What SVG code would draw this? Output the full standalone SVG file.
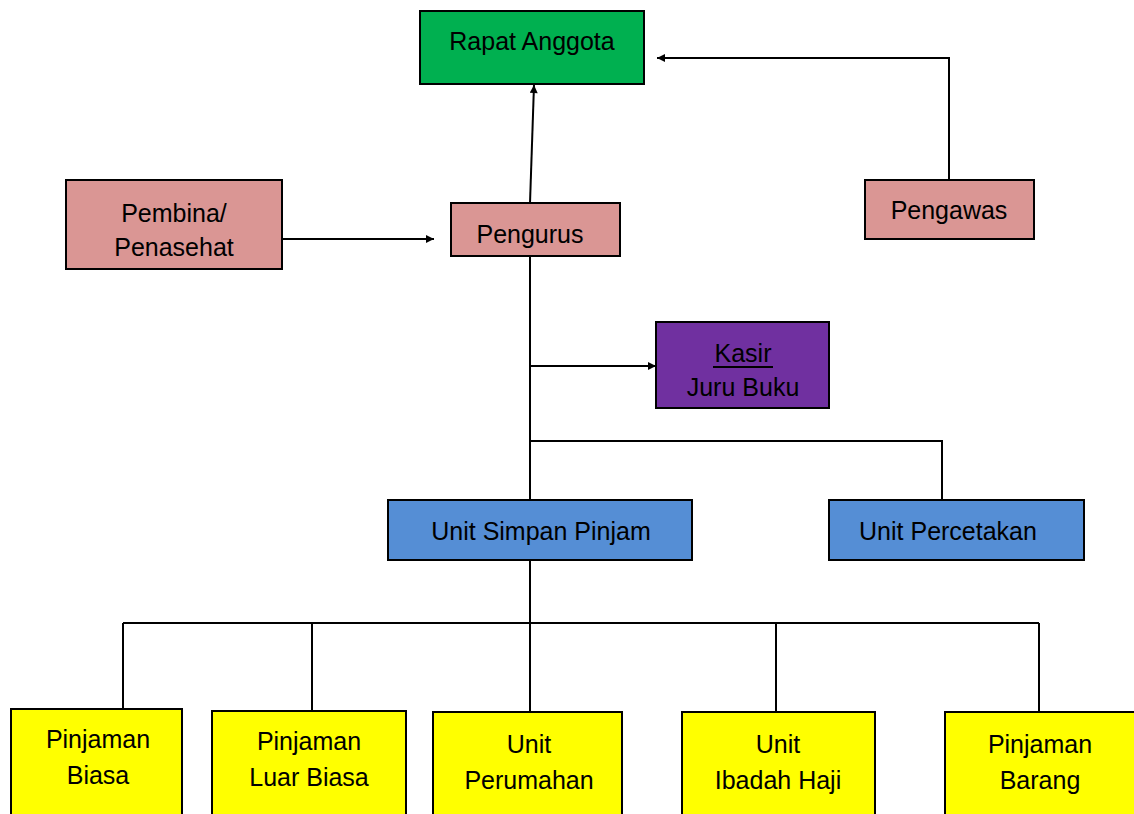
<svg xmlns="http://www.w3.org/2000/svg" width="1134" height="814" viewBox="0 0 1134 814">
<defs>
<marker id="ah" viewBox="0 0 10 10" refX="10" refY="5" markerWidth="9" markerHeight="8" orient="auto" markerUnits="userSpaceOnUse">
<path d="M0,0 L10,5 L0,10 z" fill="#000"/>
</marker>
<style>
.box{stroke:#000;stroke-width:2}
.t{font-family:"Liberation Sans",Arial,sans-serif;font-size:25px;fill:#000;text-anchor:middle}
.c{fill:none;stroke:#000;stroke-width:2}
.a{marker-end:url(#ah)}
</style>
</defs>
<rect width="1134" height="814" fill="#fff"/>
<g id="connectors">
<path class="c a" d="M530,203 L534,85"/>
<path class="c a" d="M949,180 L949,58 L657,58"/>
<path class="c a" d="M282,239 L434,239"/>
<path class="c" d="M530,256 L530,500"/>
<path class="c a" d="M530,366 L656,366"/>
<path class="c" d="M530,441 L942,441 L942,500"/>
<path class="c" d="M530,560 L530,623"/>
<path class="c" d="M123,623 L1039,623"/>
<path class="c" d="M123,623 L123,709"/>
<path class="c" d="M312,623 L312,711"/>
<path class="c" d="M530,623 L530,712"/>
<path class="c" d="M776,623 L776,712"/>
<path class="c" d="M1039,623 L1039,712"/>
</g>
<g id="rapat-anggota">
<rect class="box" x="420" y="11" width="224" height="73" fill="#00B050"/>
<text class="t" x="532" y="50">Rapat Anggota</text>
</g>
<g id="pembina">
<rect class="box" x="66" y="180" width="216" height="89" fill="#DA9694"/>
<text class="t" x="174" y="222">Pembina/</text>
<text class="t" x="174" y="256">Penasehat</text>
</g>
<g id="pengurus">
<rect class="box" x="451" y="203" width="169" height="53" fill="#DA9694"/>
<text class="t" x="530" y="243">Pengurus</text>
</g>
<g id="pengawas">
<rect class="box" x="865" y="180" width="169" height="59" fill="#DA9694"/>
<text class="t" x="949" y="219">Pengawas</text>
</g>
<g id="kasir">
<rect class="box" x="656" y="322" width="173" height="86" fill="#7030A0"/>
<text class="t" x="743" y="362">Kasir</text>
<line x1="713" y1="367" x2="773" y2="367" stroke="#000" stroke-width="2"/>
<text class="t" x="743" y="396">Juru Buku</text>
</g>
<g id="unit-simpan-pinjam">
<rect class="box" x="388" y="500" width="304" height="60" fill="#558ED5"/>
<text class="t" x="541" y="540">Unit Simpan Pinjam</text>
</g>
<g id="unit-percetakan">
<rect class="box" x="829" y="500" width="255" height="60" fill="#558ED5"/>
<text class="t" x="948" y="540">Unit Percetakan</text>
</g>
<g id="pinjaman-biasa">
<rect class="box" x="11" y="709" width="171" height="110" fill="#FFFF00"/>
<text class="t" x="98" y="748">Pinjaman</text>
<text class="t" x="98" y="784">Biasa</text>
</g>
<g id="pinjaman-luar-biasa">
<rect class="box" x="212" y="711" width="194" height="108" fill="#FFFF00"/>
<text class="t" x="309" y="750">Pinjaman</text>
<text class="t" x="309" y="786">Luar Biasa</text>
</g>
<g id="unit-perumahan">
<rect class="box" x="433" y="712" width="189" height="107" fill="#FFFF00"/>
<text class="t" x="529" y="753">Unit</text>
<text class="t" x="529" y="789">Perumahan</text>
</g>
<g id="unit-ibadah-haji">
<rect class="box" x="682" y="712" width="193" height="107" fill="#FFFF00"/>
<text class="t" x="778" y="753">Unit</text>
<text class="t" x="778" y="789">Ibadah Haji</text>
</g>
<g id="pinjaman-barang">
<rect class="box" x="945" y="712" width="195" height="107" fill="#FFFF00"/>
<text class="t" x="1040" y="753">Pinjaman</text>
<text class="t" x="1040" y="789">Barang</text>
</g>
</svg>
